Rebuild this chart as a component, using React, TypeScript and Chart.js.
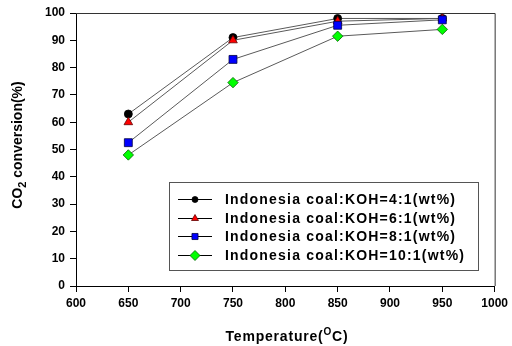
import React, { useEffect, useRef } from "react";
import { Chart, registerables } from "chart.js";

Chart.register(...registerables);

const temps = [650, 750, 850, 950];
const ratio4 = [63, 91, 98, 98];
const ratio6 = [60, 90, 97, 98];
const ratio8 = [52.5, 83, 95.5, 97.5];
const ratio10 = [48, 74.5, 91.5, 94];
const seriesLabels = [
  "Indonesia coal:KOH=4:1(wt%)",
  "Indonesia coal:KOH=6:1(wt%)",
  "Indonesia coal:KOH=8:1(wt%)",
  "Indonesia coal:KOH=10:1(wt%)",
];
const xTitle = "Temperature(";
const yTitle = "CO";

const FONT = "'Liberation Sans', Arial, sans-serif";

const styles = [
  { pointStyle: "circle", fill: "#000000", stroke: "#000000", radius: 4, lr: 3 },
  { pointStyle: "triangle", fill: "#ff0000", stroke: "#600000", radius: 5, lr: 4 },
  { pointStyle: "rect", fill: "#0000ff", stroke: "#000040", radius: 5.6, lr: 4.3 },
  { pointStyle: "rectRot", fill: "#00ff00", stroke: "#006000", radius: 5.2, lr: 5 },
];

function drawMarker(ctx: CanvasRenderingContext2D, style: string, x: number, y: number, r: number, fill: string, stroke: string) {
  ctx.save();
  ctx.beginPath();
  if (style === "circle") {
    ctx.arc(x, y, r, 0, Math.PI * 2);
  } else if (style === "triangle") {
    for (let i = 0; i < 3; i++) {
      const a = (i * 2 * Math.PI) / 3;
      const px = x + Math.sin(a) * r;
      const py = y - Math.cos(a) * r;
      if (i === 0) ctx.moveTo(px, py);
      else ctx.lineTo(px, py);
    }
    ctx.closePath();
  } else if (style === "rect") {
    const s = r * Math.SQRT1_2;
    ctx.rect(x - s, y - s, 2 * s, 2 * s);
  } else {
    ctx.moveTo(x - r, y);
    ctx.lineTo(x, y - r);
    ctx.lineTo(x + r, y);
    ctx.lineTo(x, y + r);
    ctx.closePath();
  }
  ctx.fillStyle = fill;
  ctx.fill();
  ctx.lineWidth = 0.8;
  ctx.strokeStyle = stroke;
  ctx.stroke();
  ctx.restore();
}

const decorPlugin = {
  id: "decor",
  afterDraw(chart: any) {
    const ctx: any = chart.ctx;
    const a = chart.chartArea;
    ctx.save();
    // frame top and right
    ctx.strokeStyle = "#333333";
    ctx.lineWidth = 1;
    ctx.beginPath();
    ctx.moveTo(a.left, a.top + 0.5);
    ctx.lineTo(a.right + 0.5, a.top + 0.5);
    ctx.lineTo(a.right + 0.5, a.bottom);
    ctx.stroke();

    // legend
    const bx = 169.5, by = 182.5, bw = 309, bh = 88;
    ctx.fillStyle = "#ffffff";
    ctx.fillRect(bx, by, bw, bh);
    ctx.strokeStyle = "#555555";
    ctx.strokeRect(bx, by, bw, bh);
    const rows = [199, 218, 236, 255];
    ctx.font = `bold 14px ${FONT}`;
    ctx.letterSpacing = "1.2px";
    ctx.textBaseline = "middle";
    ctx.textAlign = "left";
    rows.forEach((ry, i) => {
      ctx.strokeStyle = "#000000";
      ctx.lineWidth = 1;
      ctx.beginPath();
      ctx.moveTo(178, ry + 0.5);
      ctx.lineTo(212, ry + 0.5);
      ctx.stroke();
      const s = styles[i];
      drawMarker(ctx, s.pointStyle, 195, ry + 0.5, s.lr, s.fill, s.stroke);
      ctx.fillStyle = "#000000";
      ctx.fillText(seriesLabels[i], 225, ry + 1);
    });

    // x title
    ctx.letterSpacing = "0.8px";
    ctx.fillStyle = "#000000";
    ctx.font = `bold 14px ${FONT}`;
    ctx.textBaseline = "alphabetic";
    const p1 = xTitle;
    const p2 = "O";
    const p3 = "C)";
    const w1 = ctx.measureText(p1).width;
    ctx.font = `bold 10px ${FONT}`;
    const w2 = ctx.measureText(p2).width;
    ctx.font = `bold 14px ${FONT}`;
    const w3 = ctx.measureText(p3).width;
    let sx = 287 - (w1 + w2 + w3) / 2;
    const base = 341;
    ctx.fillText(p1, sx, base);
    sx += w1;
    ctx.font = `bold 10px ${FONT}`;
    ctx.fillText(p2, sx, base - 6);
    sx += w2;
    ctx.font = `bold 14px ${FONT}`;
    ctx.fillText(p3, sx, base);

    // y title
    ctx.letterSpacing = "0px";
    ctx.translate(22, 145);
    ctx.rotate(-Math.PI / 2);
    const q1 = yTitle;
    const q2 = "2";
    const q3 = " conversion(%)";
    ctx.font = `bold 14px ${FONT}`;
    const v1 = ctx.measureText(q1).width;
    ctx.font = `bold 11px ${FONT}`;
    const v2 = ctx.measureText(q2).width;
    ctx.font = `bold 14px ${FONT}`;
    const v3 = ctx.measureText(q3).width;
    let tx = -(v1 + v2 + v3) / 2;
    ctx.fillText(q1, tx, 0);
    tx += v1;
    ctx.font = `bold 11px ${FONT}`;
    ctx.fillText(q2, tx, 4);
    tx += v2;
    ctx.font = `bold 14px ${FONT}`;
    ctx.fillText(q3, tx, 0);
    ctx.restore();
  },
};

export default function App() {
  const ref = useRef<HTMLCanvasElement>(null);
  useEffect(() => {
    document.body.style.margin = "0";
    const all = [ratio4, ratio6, ratio8, ratio10];
    const chart = new Chart(ref.current as HTMLCanvasElement, {
      type: "line",
      data: {
        datasets: all.map((vals, i) => ({
          label: seriesLabels[i],
          data: temps.map((t, j) => ({ x: t, y: vals[j] })),
          borderColor: "#5a5a5a",
          borderWidth: 1,
          pointStyle: styles[i].pointStyle as any,
          pointRadius: styles[i].radius,
          pointBackgroundColor: styles[i].fill,
          pointBorderColor: styles[i].stroke,
          pointBorderWidth: 0.8,
          tension: 0,
          fill: false,
          order: 4 - i,
          clip: false as any,
        })),
      },
      options: {
        animation: false,
        responsive: false,
        maintainAspectRatio: false,
        layout: { padding: { left: 0, top: 13, right: 16, bottom: 0 } },
        plugins: { legend: { display: false }, tooltip: { enabled: false } },
        scales: {
          x: {
            type: "linear",
            min: 600,
            max: 1000,
            ticks: {
              stepSize: 50,
              color: "#000000",
              font: { family: FONT, size: 12, weight: "bold" },
              padding: 4,
              maxRotation: 0,
              callback: (v: any) => String(v),
            },
            grid: { drawOnChartArea: false, tickLength: 6, color: "#000000" },
            border: { color: "#000000" },
            afterFit: (s: any) => {
              s.height = 60;
            },
          },
          y: {
            min: 0,
            max: 100,
            ticks: {
              stepSize: 10,
              color: "#000000",
              font: { family: FONT, size: 12, weight: "bold" },
              padding: 5,
              callback: (v: any) => String(v),
            },
            grid: { drawOnChartArea: false, tickLength: 6, color: "#000000" },
            border: { color: "#000000" },
            afterFit: (s: any) => {
              s.width = 76;
            },
          },
        },
      },
      plugins: [decorPlugin],
    });
    return () => chart.destroy();
  }, []);
  return (
    <div style={{ position: "absolute", left: 0, top: 0, width: 512, height: 346 }}>
      <canvas ref={ref} width={512} height={346} style={{ display: "block" }} />
    </div>
  );
}
